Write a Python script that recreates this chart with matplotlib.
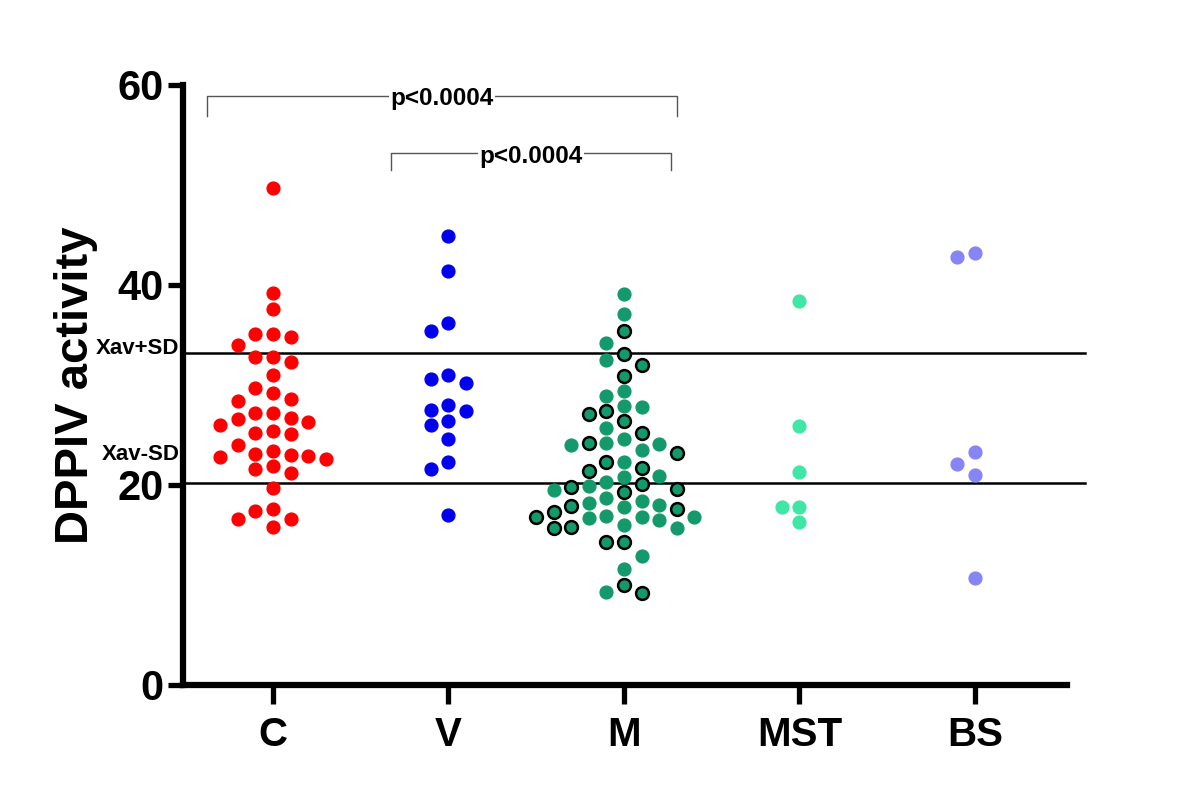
import numpy as np
import matplotlib.pyplot as plt

plt.rcParams['font.family'] = ['Liberation Sans', 'DejaVu Sans']
plt.rcParams['font.weight'] = 'bold'

# ============================================
# DATOS
# ============================================
categorias = ['C', 'V', 'M', 'MST', 'BS']

valores_c = [49.7, 39.2, 37.6, 35.1, 34.8, 35.1, 34.0, 32.8, 32.8, 32.3,
             31.0, 29.7, 28.6, 28.4, 29.2, 27.2, 26.6, 26.0, 26.3, 25.2,
             26.7, 27.2, 25.4, 25.1, 24.0, 23.4, 23.1, 22.9, 22.6, 22.8,
             23.0, 21.9, 21.6, 21.2, 19.7, 17.6, 17.4, 16.6, 16.6, 15.8]
valores_v = [44.9, 41.4, 36.2, 35.4, 31.0, 30.2, 30.6, 27.5, 27.4, 28.0,
             26.4, 26.0, 24.6, 22.3, 21.6, 17.0]
# M: dos subgrupos (sin borde / con borde negro)
valores_m = [39.1, 37.1, 34.2, 32.5, 29.4, 28.9, 27.9, 27.8, 25.7, 24.0,
             24.2, 24.6, 23.5, 24.1, 22.3, 20.8, 20.9, 19.9, 19.5, 20.3,
             18.4, 18.0, 17.8, 18.2, 18.7, 16.8, 16.5, 15.7, 16.7, 16.8,
             16.9, 16.0, 12.9, 11.6, 9.3]
valores_m_borde = [35.4, 33.1, 32.0, 30.9, 27.4, 27.1, 26.4, 25.2, 24.2, 23.2,
                   22.3, 21.7, 21.4, 20.1, 19.6, 19.8, 19.3, 17.9, 17.3, 17.6,
                   16.8, 15.8, 15.7, 14.3, 14.3, 10.0, 9.2]
valores_mst = [38.4, 25.9, 21.3, 17.8, 17.8, 16.3]
valores_bs = [43.2, 42.8, 23.3, 22.1, 21.0, 10.7]

xav_mas_sd = 33.2
xav_menos_sd = 20.2
texto_p = ['p<0.0004', 'p<0.0004']


# ============================================
# DISPOSICIÓN TIPO "BEESWARM"
# ============================================
def enjambre(valores, centro, paso=0.1, separacion=1.45):
    valores = np.asarray(valores, dtype=float)
    xs = np.zeros(len(valores))
    colocados = []
    for i in np.argsort(-valores):
        v = valores[i]
        for k in [0, -1, 1, -2, 2, -3, 3, -4, 4, -5, 5, -6, 6]:
            if all(abs(v - pv) >= separacion for ks, pv in colocados if ks == k):
                break
        colocados.append((k, v))
        xs[i] = centro + k * paso
    return xs


fig = plt.figure(figsize=(12, 8), dpi=100)
ax = fig.add_axes([0.1525, 0.14375, 0.7367, 0.75])

tam = 85
ax.scatter(enjambre(valores_c, 0), valores_c, s=tam, color='#ff0000', zorder=3)
ax.scatter(enjambre(valores_v, 1), valores_v, s=tam, color='#0000ee', zorder=3)

todos_m = valores_m + valores_m_borde
xs_m = enjambre(todos_m, 2)
n_m = len(valores_m)
ax.scatter(xs_m[:n_m], valores_m, s=tam, color='#14996b', zorder=3)
ax.scatter(xs_m[n_m:], valores_m_borde, s=tam, color='#14996b',
           edgecolors='black', linewidths=1.8, zorder=4)

ax.scatter(enjambre(valores_mst, 3), valores_mst, s=tam, color='#3fe6a6', zorder=3)
ax.scatter(enjambre(valores_bs, 4), valores_bs, s=tam, color='#8585f5', zorder=3)

# Líneas de referencia
for y in [xav_mas_sd, xav_menos_sd]:
    ax.axhline(y, xmin=0, xmax=1.02, color='black', lw=1.8, clip_on=False, zorder=2)
ax.annotate('Xav+SD', xy=(-0.004, xav_mas_sd + 0.5), xycoords=('axes fraction', 'data'),
            ha='right', va='center', fontsize=16, fontweight='bold', annotation_clip=False)
ax.annotate('Xav-SD', xy=(-0.004, xav_menos_sd + 2.8), xycoords=('axes fraction', 'data'),
            ha='right', va='center', fontsize=16, fontweight='bold', annotation_clip=False)

# Corchetes de significación
corchetes = [(-0.377, 2.30, 58.9, 56.9), (0.67, 2.27, 53.2, 51.5)]
for (x1, x2, y, ybajo), txt in zip(corchetes, texto_p):
    ax.plot([x1, x1, x2, x2], [ybajo, y, y, ybajo], color='#555555', lw=1.0,
            clip_on=False, zorder=1)
    ax.text((x1 + x2) / 2, y - 0.3, txt, ha='center', va='center', fontsize=17.5,
            fontweight='bold', zorder=2,
            bbox=dict(facecolor='white', edgecolor='none', pad=1))

# Ejes
ax.set_xlim(-0.513, 4.525)
ax.set_ylim(0, 60)
ax.set_xticks(range(len(categorias)))
ax.set_xticklabels(categorias, fontsize=29, fontweight='bold')
ax.set_yticks([0, 20, 40, 60])
ax.set_yticklabels(['0', '20', '40', '60'], fontsize=30, fontweight='bold')
ax.set_ylabel('DPPIV activity', fontsize=34, fontweight='bold', labelpad=14)

for lado in ['top', 'right']:
    ax.spines[lado].set_visible(False)
for lado in ['left', 'bottom']:
    ax.spines[lado].set_linewidth(4.5)
ax.tick_params(axis='both', width=3.8, length=11, direction='out')
ax.tick_params(axis='x', length=14, pad=8)
ax.tick_params(axis='y', pad=3)

plt.savefig('out.png', dpi=100)
